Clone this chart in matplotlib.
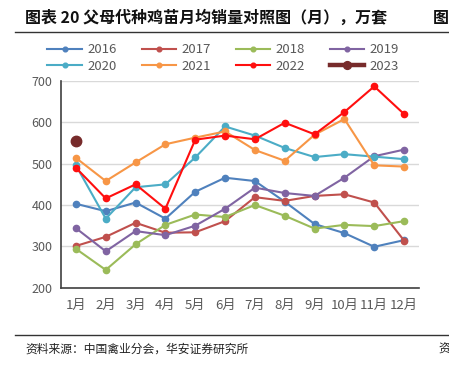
import matplotlib
matplotlib.use("Agg")
import matplotlib.pyplot as plt
import numpy as np

plt.rcParams['font.family'] = ['Noto Sans CJK SC', 'DejaVu Sans']

months = ['1月', '2月', '3月', '4月', '5月', '6月', '7月', '8月', '9月', '10月', '11月', '12月']
years = ['2016', '2017', '2018', '2019', '2020', '2021', '2022', '2023']
s2016 = [403, 385, 406, 367, 432, 466, 458, 408, 354, 332, 299, 315]
s2017 = [301, 323, 357, 333, 334, 361, 419, 410, 422, 426, 406, 314]
s2018 = [294, 243, 305, 352, 377, 371, 400, 374, 343, 352, 349, 361]
s2019 = [344, 288, 337, 327, 350, 391, 442, 429, 422, 466, 518, 534]
s2020 = [496, 367, 443, 450, 515, 590, 568, 538, 516, 523, 517, 511]
s2021 = [514, 458, 503, 547, 563, 578, 533, 507, 570, 608, 496, 493]
s2022 = [490, 416, 450, 391, 558, 568, 559, 599, 571, 625, 687, 620]
s2023 = [555]
series = [s2016, s2017, s2018, s2019, s2020, s2021, s2022, s2023]
colors = ['#4f81bd', '#c0504d', '#9bbb59', '#8064a2', '#4bacc6', '#f79646', '#ff0f0f', '#772b2b']

W, H = 449, 368
fig = plt.figure(figsize=(W / 100, H / 100), dpi=100)

def px(x0, y0, x1, y1):
    return [x0 / W, 1 - y1 / H, (x1 - x0) / W, (y1 - y0) / H]

ax = fig.add_axes(px(61, 81, 419, 287.7))
x = np.arange(1, 13)
handles = []
for name, vals, c in zip(years, series, colors):
    xs = x[:len(vals)]
    if name == '2023':
        h, = ax.plot(xs, vals, '-o', color=c, lw=3.2, ms=7.5, label=name, zorder=3)
    else:
        h, = ax.plot(xs, vals, '-o', color=c, lw=1.5, ms=4.5, label=name, zorder=3)
    handles.append(h)

ax.set_xlim(0.5, 12.5)
ax.set_ylim(200, 700)
ax.set_yticks(np.arange(200, 701, 100))
ax.set_xticks(x)
ax.set_xticklabels(months)
ax.grid(axis='y', color='#d9d9d9', lw=1)
ax.set_axisbelow(True)
for s in ['top', 'right']:
    ax.spines[s].set_visible(False)
for s in ['left', 'bottom']:
    ax.spines[s].set_color('#404040')
    ax.spines[s].set_linewidth(1.2)
ax.tick_params(length=0, labelsize=9, labelcolor='#595959', pad=6)
ax.tick_params(axis='x', pad=8, labelsize=9.5)

# legend fills row by row: 2016-2019 on top, 2020-2023 below
order = [0, 4, 1, 5, 2, 6, 3, 7]
fig.legend(handles=[handles[i] for i in order], ncol=4, loc='center',
           bbox_to_anchor=(223 / W, 1 - 58 / H), frameon=False, fontsize=9.5,
           labelcolor='#595959', handlelength=2.6, handletextpad=0.4,
           columnspacing=1.9, labelspacing=0.25, markerscale=0.75)

fig.text(25 / W, 1 - 18 / H, '图表 20 父母代种鸡苗月均销量对照图（月），万套', fontsize=11.5,
         fontweight='bold', va='center', ha='left', color='#111111')
fig.text(433 / W, 1 - 18 / H, '图', fontsize=11.5, fontweight='bold', va='center', ha='left',
         color='#111111')
fig.add_artist(plt.Line2D([15 / W, 1], [1 - 32 / H, 1 - 32 / H], color='#333333', lw=1))
fig.add_artist(plt.Line2D([15 / W, 1], [1 - 335 / H, 1 - 335 / H], color='#333333', lw=1))
fig.text(25 / W, 1 - 349 / H, '资料来源：中国禽业分会，华安证券研究所', fontsize=8.5,
         va='center', ha='left', color='#222222')
fig.text(438 / W, 1 - 349 / H, '资', fontsize=8.5, va='center', ha='left', color='#222222')

fig.savefig('out.png', dpi=100)
